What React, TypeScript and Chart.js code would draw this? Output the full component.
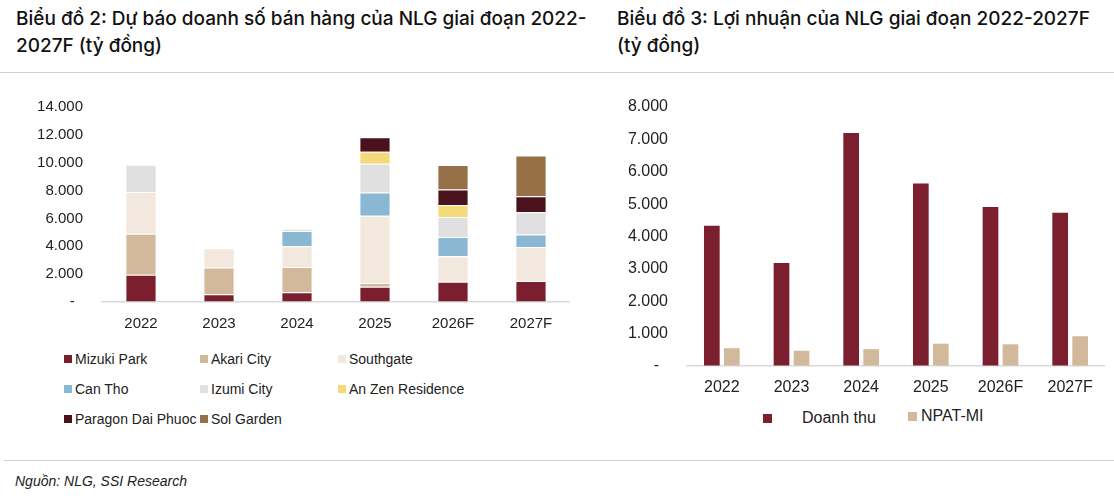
import { useEffect, useRef } from "react";
import { Chart, registerables } from "chart.js";

Chart.register(...registerables);

const years = ["2022", "2023", "2024", "2025", "2026F", "2027F"];

// Biểu đồ 2 - doanh số theo dự án (tỷ đồng)
const mizukiPark = [1950, 550, 700, 1100, 1450, 1500];
const akariCity = [2950, 1930, 1820, 260, 0, 0];
const southgate = [3000, 1380, 1480, 4830, 1840, 2450];
const canTho = [0, 0, 1100, 1670, 1380, 900];
const izumiCity = [1950, 0, 160, 2070, 1430, 1600];
const anZen = [0, 0, 0, 860, 860, 0];
const paragon = [0, 0, 0, 1040, 1120, 1140];
const solGarden = [0, 0, 0, 0, 1760, 2930];

// Biểu đồ 3 - lợi nhuận (tỷ đồng)
const doanhThu = [4330, 3180, 7200, 5640, 4910, 4730];
const npatMi = [550, 470, 520, 690, 670, 920];

const salesSeries = [
  { label: "Mizuki Park", data: mizukiPark, color: "#7b1f2e" },
  { label: "Akari City", data: akariCity, color: "#d3b99b" },
  { label: "Southgate", data: southgate, color: "#f3e8de" },
  { label: "Can Tho", data: canTho, color: "#8ab8d2" },
  { label: "Izumi City", data: izumiCity, color: "#e0e0e0" },
  { label: "An Zen Residence", data: anZen, color: "#f5da7a" },
  { label: "Paragon Dai Phuoc", data: paragon, color: "#4a121c" },
  { label: "Sol Garden", data: solGarden, color: "#967046" },
];

const tickText = (v: number | string) => {
  const n = Number(v);
  return n === 0 ? "-  " : n.toLocaleString("de-DE");
};

// invisible tick marks give the gap between labels and plot without adding top padding
const hiddenGrid = {
  display: true,
  drawOnChartArea: false,
  drawTicks: true,
  tickLength: 19,
  color: "rgba(0,0,0,0)",
};

function ChartBox({ config, style }: { config: any; style: React.CSSProperties }) {
  const canvasRef = useRef<HTMLCanvasElement>(null);
  const chartRef = useRef<Chart | null>(null);

  useEffect(() => {
    if (canvasRef.current) {
      if (chartRef.current) chartRef.current.destroy();
      chartRef.current = new Chart(canvasRef.current, config);
    }
    return () => {
      if (chartRef.current) chartRef.current.destroy();
    };
  }, [config]);

  return (
    <div style={{ position: "absolute", ...style }}>
      <canvas ref={canvasRef} />
    </div>
  );
}

const leftConfig = {
  type: "bar",
  data: {
    labels: years,
    datasets: salesSeries.map((s) => ({
      label: s.label,
      data: s.data,
      backgroundColor: s.color,
      borderColor: "rgba(255,255,255,0.8)",
      borderWidth: 1,
      categoryPercentage: 1,
      barPercentage: 0.4,
    })),
  },
  options: {
    animation: false,
    responsive: true,
    maintainAspectRatio: false,
    layout: { padding: { top: 17, right: 0, bottom: 0, left: 0 } },
    plugins: { legend: { display: false }, tooltip: { enabled: false } },
    scales: {
      x: {
        stacked: true,
        grid: { display: false, drawTicks: false },
        border: { display: true, color: "#d9d9d9", width: 1.5 },
        ticks: { color: "#222", padding: 13, font: { family: "Liberation Sans", size: 15 } },
        afterFit: (s: any) => {
          s.height = 40;
        },
      },
      y: {
        stacked: true,
        min: 0,
        max: 14000,
        grid: hiddenGrid,
        border: { display: false },
        ticks: {
          stepSize: 2000,
          color: "#222",
          padding: 0,
          font: { family: "Liberation Sans", size: 15 },
          callback: tickText,
        },
        afterFit: (s: any) => {
          s.width = 82;
        },
      },
    },
  },
};

const rightConfig = {
  type: "bar",
  data: {
    labels: years,
    datasets: [
      {
        label: "Doanh thu",
        data: doanhThu,
        backgroundColor: "#7b1f2e",
        categoryPercentage: 0.574,
        barPercentage: 0.785,
      },
      {
        label: "NPAT-MI",
        data: npatMi,
        backgroundColor: "#d3b99b",
        categoryPercentage: 0.574,
        barPercentage: 0.785,
      },
    ],
  },
  options: {
    animation: false,
    responsive: true,
    maintainAspectRatio: false,
    layout: { padding: { top: 17, right: 0, bottom: 0, left: 0 } },
    plugins: { legend: { display: false }, tooltip: { enabled: false } },
    scales: {
      x: {
        grid: { display: false, drawTicks: false },
        border: { display: true, color: "#d9d9d9", width: 1.5 },
        ticks: { color: "#222", padding: 12, font: { family: "Liberation Sans", size: 16 } },
        afterFit: (s: any) => {
          s.height = 40;
        },
      },
      y: {
        min: 0,
        max: 8000,
        grid: hiddenGrid,
        border: { display: false },
        ticks: {
          stepSize: 1000,
          color: "#222",
          padding: 0,
          font: { family: "Liberation Sans", size: 16 },
          callback: tickText,
        },
        afterFit: (s: any) => {
          s.width = 87;
        },
      },
    },
  },
};

const titleStyle: React.CSSProperties = {
  position: "absolute",
  top: 5,
  fontFamily: "Inter",
  fontWeight: 500,
  fontSize: 19,
  lineHeight: "27px",
  color: "#111",
  margin: 0,
  whiteSpace: "nowrap",
};

const legendText: React.CSSProperties = {
  fontFamily: "Liberation Sans",
  fontSize: 14,
  color: "#222",
  whiteSpace: "nowrap",
};

function Swatch({ color, size }: { color: string; size: number }) {
  return <span style={{ display: "inline-block", width: size, height: size, background: color }} />;
}

export default function App() {
  useEffect(() => {
    document.body.style.margin = "0";
  }, []);

  return (
    <div style={{ position: "relative", width: 1114, height: 499, background: "#fff", overflow: "hidden" }}>
      <div style={{ ...titleStyle, left: 16 }}>
        Biểu đồ 2: Dự báo doanh số bán hàng của NLG giai đoạn 2022-
        <br />
        2027F (tỷ đồng)
      </div>
      <div style={{ ...titleStyle, left: 617 }}>
        Biểu đồ 3: Lợi nhuận của NLG giai đoạn 2022-2027F
        <br />
        (tỷ đồng)
      </div>
      <div style={{ position: "absolute", left: 0, top: 72, width: 1114, height: 1, background: "#d0d0d0" }} />

      <ChartBox config={leftConfig} style={{ left: 20, top: 90, width: 550, height: 252 }} />
      <ChartBox config={rightConfig} style={{ left: 600, top: 90, width: 505, height: 316 }} />

      {salesSeries.map((s, i) => {
        const col = i % 3;
        const row = Math.floor(i / 3);
        const left = [64, 200, 338][col];
        const top = 359 + row * 30;
        return (
          <div
            key={s.label}
            style={{ position: "absolute", left, top: top - 10, height: 20, display: "flex", alignItems: "center" }}
          >
            <Swatch color={s.color} size={8} />
            <span style={{ ...legendText, marginLeft: 3 }}>{s.label}</span>
          </div>
        );
      })}

      <div style={{ position: "absolute", left: 763, top: 408, height: 20, display: "flex", alignItems: "center" }}>
        <Swatch color="#7b1f2e" size={9} />
        <span style={{ ...legendText, fontSize: 16, marginLeft: 30 }}>Doanh thu</span>
      </div>
      <div style={{ position: "absolute", left: 908, top: 406, height: 20, display: "flex", alignItems: "center" }}>
        <Swatch color="#d3b99b" size={9} />
        <span style={{ ...legendText, fontSize: 16, marginLeft: 4 }}>NPAT-MI</span>
      </div>

      <div style={{ position: "absolute", left: 4, top: 460, width: 1110, height: 1, background: "#d0d0d0" }} />
      <div
        style={{
          position: "absolute",
          left: 15,
          top: 473,
          fontFamily: "Liberation Sans",
          fontStyle: "italic",
          fontSize: 14,
          color: "#222",
        }}
      >
        Nguồn: NLG, SSI Research
      </div>
    </div>
  );
}
